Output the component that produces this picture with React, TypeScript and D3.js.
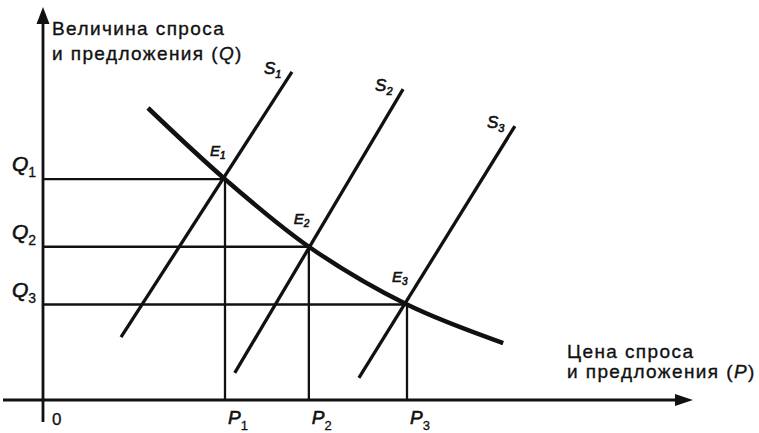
import React from "react";
import * as d3 from "d3";

// Equilibrium values (price P, quantity Q) in chart units
const eqNames = ["1", "2", "3"];
const eqP = [2.8, 4.09, 5.6];
const eqQ = [5.62, 3.9, 2.43];

// Demand curve points (P, Q)
const demandP = [1.615, 2.8, 4.09, 5.6, 7.08];
const demandQ = [7.43, 5.62, 3.9, 2.43, 1.45];

// Supply lines S1..S3: start (low) and end (high) points (P, Q)
const supplyStartP = [1.2, 2.95, 4.86];
const supplyStartQ = [1.6, 0.69, 0.56];
const supplyEndP = [3.83, 5.54, 7.26];
const supplyEndQ = [8.35, 7.91, 6.97];

const yTitle = ["Величина спроса", "и предложения ("];
const xTitle = ["Цена спроса", "и предложения ("];

const W = 759;
const H = 433;

export default function App() {
  const x = d3.scaleLinear().domain([0, 10]).range([43, 693]);
  const y = d3.scaleLinear().domain([0, 10]).range([400, 7]);

  const demandPts: [number, number][] = demandP.map((p, i) => [x(p), y(demandQ[i])]);
  const demandPath = d3.line().curve(d3.curveCatmullRom.alpha(0.5))(demandPts) || "";

  const font = "'Liberation Sans', Arial, sans-serif";
  const ink = "#111";
  const x0 = x(0);
  const y0 = y(0);
  const xEnd = x(10);
  const yTop = y(10);
  const titleProps = {
    fontFamily: font,
    fontSize: 19,
    letterSpacing: 1.4,
    fill: ink,
    stroke: ink,
    strokeWidth: 0.35,
  };
  const symProps = {
    fontFamily: font,
    fontStyle: "italic",
    fill: ink,
    stroke: ink,
    strokeWidth: 0.6,
  };

  return (
    <svg width={W} height={H} style={{ position: "absolute", left: 0, top: 0, background: "#fff" }}>
      <rect x={0} y={0} width={W} height={H} fill="#fff" />
      {/* axes */}
      <line x1={3} y1={y0} x2={xEnd - 12} y2={y0} stroke={ink} strokeWidth={2.8} />
      <path d={`M${xEnd},${y0} L${xEnd - 18},${y0 - 6} L${xEnd - 18},${y0 + 6} Z`} fill={ink} />
      <line x1={x0} y1={y0 + 22} x2={x0} y2={yTop + 12} stroke={ink} strokeWidth={2.8} />
      <path d={`M${x0},${yTop} L${x0 - 6.5},${yTop + 17} L${x0 + 6.5},${yTop + 17} Z`} fill={ink} />

      {/* guide lines */}
      {eqP.map((p, i) => (
        <g key={"g" + i}>
          <line x1={x0} y1={y(eqQ[i])} x2={x(p)} y2={y(eqQ[i])} stroke={ink} strokeWidth={2.3} />
          <line x1={x(p)} y1={y(eqQ[i])} x2={x(p)} y2={y0} stroke={ink} strokeWidth={2.3} />
        </g>
      ))}

      {/* supply lines */}
      {supplyStartP.map((p, i) => (
        <line
          key={"s" + i}
          x1={x(p)}
          y1={y(supplyStartQ[i])}
          x2={x(supplyEndP[i])}
          y2={y(supplyEndQ[i])}
          stroke={ink}
          strokeWidth={3.3}
        />
      ))}

      {/* demand curve */}
      <path d={demandPath} fill="none" stroke={ink} strokeWidth={4.5} />

      {/* S labels */}
      {supplyEndP.map((p, i) => (
        <text key={"sl" + i} x={x(p) - 28} y={y(supplyEndQ[i]) + 2} fontSize={17} {...symProps}>
          S<tspan fontSize={11} dy={4}>{eqNames[i]}</tspan>
        </text>
      ))}

      {/* E labels */}
      {eqP.map((p, i) => (
        <text key={"el" + i} x={x(p) - 15} y={y(eqQ[i]) - 23} fontSize={15} {...symProps}>
          E<tspan fontSize={10} dy={3}>{eqNames[i]}</tspan>
        </text>
      ))}

      {/* Q labels */}
      {eqQ.map((q, i) => (
        <text key={"ql" + i} x={12} y={y(q) - 8} fontSize={21} {...symProps}>
          Q<tspan fontStyle="normal" fontSize={14} dy={6} strokeWidth={0.3}>{eqNames[i]}</tspan>
        </text>
      ))}

      {/* P labels */}
      {eqP.map((p, i) => (
        <text key={"pl" + i} x={x(p) + 3} y={y0 + 24} fontSize={19} {...symProps}>
          P<tspan fontStyle="normal" fontSize={13} dy={6} strokeWidth={0.3}>{eqNames[i]}</tspan>
        </text>
      ))}

      <text x={x0 + 9} y={y0 + 25} fontFamily={font} fontSize={17} fill={ink} stroke={ink} strokeWidth={0.3}>0</text>

      {/* Axis titles */}
      <text x={x0 + 9} y={35} {...titleProps}>{yTitle[0]}</text>
      <text x={x0 + 9} y={60} {...titleProps}>
        {yTitle[1]}<tspan fontStyle="italic">Q</tspan>)
      </text>
      <text x={567} y={358} {...titleProps}>{xTitle[0]}</text>
      <text x={567} y={378} {...titleProps}>
        {xTitle[1]}<tspan fontStyle="italic">P</tspan>)
      </text>
    </svg>
  );
}
